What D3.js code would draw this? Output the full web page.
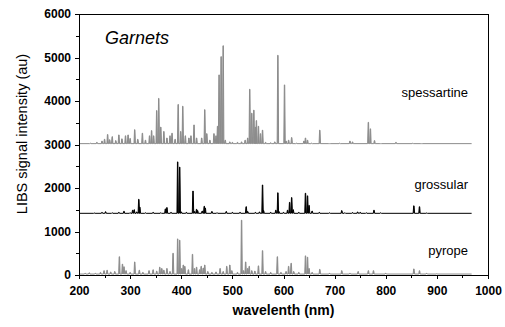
<!DOCTYPE html>
<html>
<head>
<meta charset="utf-8">
<script src="https://cdn.jsdelivr.net/npm/d3@7"></script>
<style>
  body { margin: 0; background: #fff; }
  svg { font-family: "Liberation Sans", Arial, sans-serif; }
  .axis path, .axis line { stroke: #000; shape-rendering: crispEdges; }
  .axis text { font-size: 12px; font-weight: bold; fill: #000; }
</style>
</head>
<body>
<div id="chart"></div>
<script>
// chart values (wavelength nm, signal as plotted incl. vertical offset)
const xTicks = [200, 300, 400, 500, 600, 700, 800, 900, 1000];
const yTicks = [0, 1000, 2000, 3000, 4000, 5000, 6000];
const seriesNames = ['spessartine', 'grossular', 'pyrope'];
const seriesColors = ['#8c8c8c', '#000000', '#8c8c8c'];
const baselines = [3020, 1418, 22];
const lastWavelength = 968;

const spessartinePeaks = [
  [222,3030],[235,3050],[245,3080],[250,3120],[256,3230],[260,3110],[265,3180],[272,3090],
  [278,3220],[284,3130],[291,3200],[296,3220],[300,3140],[309,3340],[315,3120],[324,3260],
  [330,3100],[338,3200],[342,3320],[346,3200],[352,3780],[356,4060],[360,3400],[366,3300],
  [372,3150],[378,3200],[382,3260],[388,3120],[394,3920],[399,3300],[403,3880],[408,3200],
  [415,3150],[419,3200],[425,3450],[430,3150],[440,3150],[446,3800],[450,3250],[456,3100],
  [464,3250],[468,3200],[471,3420],[474,4600],[478,5020],[482,5270],[486,3100],[495,3060],
  [500,3050],[510,3050],[518,3060],[525,3100],[530,3150],[534,4270],[538,3720],[542,3790],
  [545,3400],[547,3550],[551,3420],[555,3250],[559,3330],[565,3050],[575,3040],[583,3060],
  [589,5050],[602,4370],[605,3080],[610,3100],[616,3160],[625,3030],[640,3080],[643,3150],
  [647,3100],[655,3030],[671,3330],[690,3020],[710,3030],[730,3080],[735,3060],[766,3510],
  [770,3360],[778,3090],[790,3020],[820,3050],[853,3030],[870,3020]
];

const grossularPeaks = [
  [230,1425],[245,1440],[252,1455],[265,1430],[278,1440],[288,1465],[300,1430],[305,1490],
  [308,1500],[313,1450],[317,1740],[319,1560],[330,1430],[345,1440],[360,1430],[369,1520],
  [372,1550],[380,1440],[393,2600],[397,2480],[400,1450],[410,1440],[423,1930],[426,1460],
  [430,1510],[432,1480],[441,1470],[445,1580],[447,1540],[460,1460],[470,1430],[488,1460],
  [500,1440],[515,1440],[527,1570],[530,1460],[545,1440],[553,1450],[559,2070],[561,1480],
  [575,1440],[585,1490],[589,1890],[591,1460],[600,1440],[608,1490],[612,1670],[616,1780],
  [619,1500],[630,1440],[643,1880],[647,1820],[650,1600],[656,1470],[670,1440],[690,1430],
  [714,1480],[720,1430],[735,1435],[745,1450],[750,1440],[762,1430],[777,1490],[790,1430],
  [855,1590],[866,1570],[880,1425]
];

const pyropePeaks = [
  [212,40],[220,50],[232,40],[242,60],[249,100],[255,110],[262,70],[270,80],[279,420],
  [285,250],[288,190],[292,100],[300,60],[309,300],[318,110],[325,60],[337,100],[345,120],
  [352,90],[358,180],[362,150],[366,110],[372,150],[378,80],[384,500],[393,830],[397,800],
  [401,150],[404,230],[407,200],[414,120],[422,475],[426,150],[430,180],[436,120],[439,200],
  [443,160],[446,230],[452,80],[460,60],[468,70],[476,150],[482,80],[489,200],[495,230],
  [499,100],[510,60],[518,1260],[522,100],[526,300],[530,150],[533,200],[538,100],[544,90],
  [551,210],[559,560],[565,80],[575,60],[588,420],[595,60],[605,80],[610,200],[615,270],
  [620,80],[630,60],[643,440],[647,410],[650,150],[656,60],[671,130],[690,40],[714,100],
  [730,40],[746,80],[766,100],[776,100],[800,40],[855,140],[866,100],[880,40],[900,30]
];

const allPeaks = [spessartinePeaks, grossularPeaks, pyropePeaks];

const W = 505, H = 327;
const margin = { top: 14, right: 17, bottom: 52, left: 79 };
const width = W - margin.left - margin.right;
const height = H - margin.top - margin.bottom;

const svg = d3.select('#chart').append('svg')
  .attr('width', W)
  .attr('height', H);

const chart = svg.append('g')
  .attr('transform', `translate(${margin.left},${margin.top})`);

const xScale = d3.scaleLinear().domain([200, 1000]).range([0, width]);
const yScale = d3.scaleLinear().domain([0, 6000]).range([height, 0]);

// spectra, each line drawn as narrow spikes on its baseline
const line = d3.line()
  .x(d => xScale(d[0]))
  .y(d => yScale(d[1]));

allPeaks.forEach((peaks, i) => {
  const base = baselines[i];
  const pts = [[200, base]];
  peaks.forEach(p => {
    pts.push([p[0] - 1.4, base], [p[0] - 0.4, p[1]], [p[0] + 0.4, p[1]], [p[0] + 1.4, base]);
  });
  pts.push([lastWavelength, base]);
  chart.append('path')
    .datum(pts)
    .attr('fill', seriesColors[i])
    .attr('stroke', seriesColors[i])
    .attr('stroke-width', 1)
    .attr('d', line);
});

// frame
chart.append('rect')
  .attr('width', width)
  .attr('height', height)
  .attr('fill', 'none')
  .attr('stroke', '#000')
  .attr('stroke-width', 1)
  .attr('shape-rendering', 'crispEdges');

// axes
const fmt = d3.format('d');
const xaxis = d3.axisBottom(xScale).tickValues(xTicks).tickSize(4).tickSizeOuter(0).tickFormat(fmt);
chart.append('g').attr('class', 'x axis')
  .attr('transform', `translate(0,${height})`)
  .call(xaxis)
  .call(g => g.selectAll('text').attr('dy', '1.05em'));

chart.append('g').attr('class', 'x axis minor')
  .attr('transform', `translate(0,${height})`)
  .call(d3.axisBottom(xScale).tickValues(d3.range(250, 1000, 100)).tickSize(3).tickFormat(''))
  .call(g => g.select('.domain').remove());

const yaxis = d3.axisLeft(yScale).tickValues(yTicks).tickSize(4).tickSizeOuter(0).tickFormat(fmt);
chart.append('g').attr('class', 'y axis')
  .call(yaxis)
  .call(g => g.selectAll('text').attr('x', -8));

chart.append('g').attr('class', 'y axis minor')
  .call(d3.axisLeft(yScale).tickValues(d3.range(500, 6000, 1000)).tickSize(3).tickFormat(''))
  .call(g => g.select('.domain').remove());

// labels
chart.append('text')
  .attr('x', 26).attr('y', 30)
  .attr('font-size', 18).attr('font-style', 'italic')
  .text('Garnets');

const labelY = [83, 175, 241];
seriesNames.forEach((n, i) => {
  chart.append('text')
    .attr('x', 389).attr('y', labelY[i])
    .attr('text-anchor', 'end')
    .attr('font-size', 13)
    .text(n);
});

svg.append('text')
  .attr('x', margin.left + width / 2).attr('y', 315)
  .attr('text-anchor', 'middle')
  .attr('font-size', 14).attr('font-weight', 'bold')
  .text('wavelenth (nm)');

svg.append('text')
  .attr('transform', 'translate(27,134) rotate(-90)')
  .attr('text-anchor', 'middle')
  .attr('font-size', 14.5)
  .text('LIBS signal intensity (au)');
</script>
</body>
</html>
